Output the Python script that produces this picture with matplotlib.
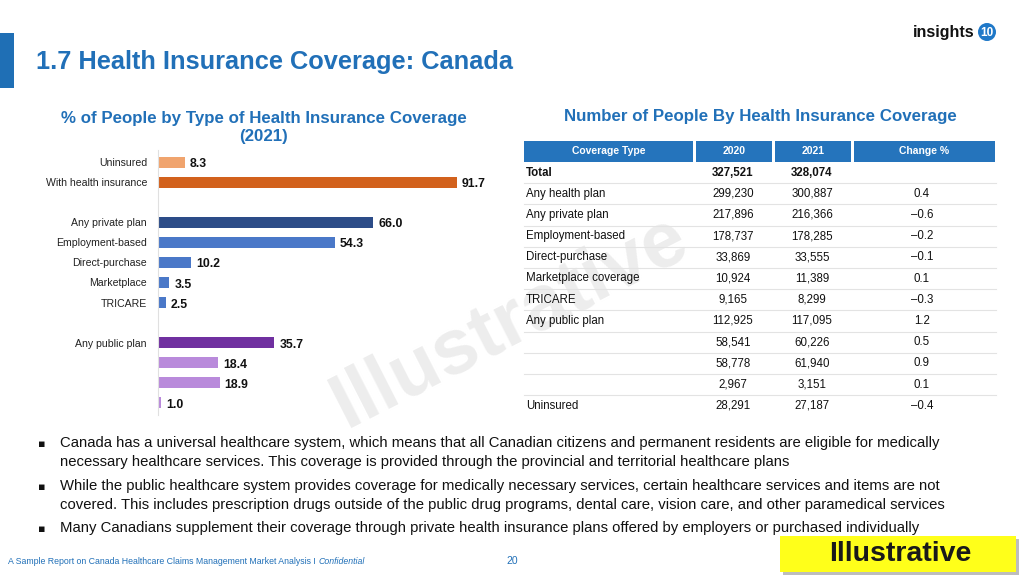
import matplotlib
matplotlib.use('Agg')
import matplotlib.pyplot as plt
from matplotlib.patches import Rectangle, Circle

plt.rcParams['font.family'] = ['Liberation Sans', 'DejaVu Sans']

# bar chart data (% of people, 2021)
bar_labels = ['Uninsured', 'With health insurance', 'Any private plan', 'Employment-based',
              'Direct-purchase', 'Marketplace', 'TRICARE', 'Any public plan', '', '', '']
bar_values = [8.3, 91.7, 66.0, 54.3, 10.2, 3.5, 2.5, 35.7, 18.4, 18.9, 1.0]
bar_slots = [0, 1, 3, 4, 5, 6, 7, 9, 10, 11, 12]
bar_colors = ['#F0A46E', '#D2611C', '#2C4C88', '#4A78C8', '#4A78C8', '#4A78C8', '#4A78C8',
              '#7030A0', '#B98ADB', '#B98ADB', '#B98ADB']

# table data (number of people, thousands)
table_header = ['Coverage Type', '2020', '2021', 'Change %']
table_types = ['Total', 'Any health plan', 'Any private plan', 'Employment-based', 'Direct-purchase',
               'Marketplace coverage', 'TRICARE', 'Any public plan', '', '', '', 'Uninsured']
values_2020 = ['327,521', '299,230', '217,896', '178,737', '33,869', '10,924', '9,165',
               '112,925', '58,541', '58,778', '2,967', '28,291']
values_2021 = ['328,074', '300,887', '216,366', '178,285', '33,555', '11,389', '8,299',
               '117,095', '60,226', '61,940', '3,151', '27,187']
change_pct = ['', '0.4', '\u20130.6', '\u20130.2', '\u20130.1', '0.1', '\u20130.3',
              '1.2', '0.5', '0.9', '0.1', '\u20130.4']

bullets = [
    'Canada has a universal healthcare system, which means that all Canadian citizens and permanent residents are eligible for medically\n'
    'necessary healthcare services. This coverage is provided through the provincial and territorial healthcare plans',
    'While the public healthcare system provides coverage for medically necessary services, certain healthcare services and items are not\n'
    'covered. This includes prescription drugs outside of the public drug programs, dental care, vision care, and other paramedical services',
    'Many Canadians supplement their coverage through private health insurance plans offered by employers or purchased individually',
]

BLUE = '#2170B8'

fig = plt.figure(figsize=(10.24, 5.76), dpi=100)

# overlay axes in pixel coordinates for the page layout
ov = fig.add_axes([0, 0, 1, 1], zorder=0)
ov.set_xlim(0, 1024)
ov.set_ylim(576, 0)
ov.axis('off')

# watermark
ov.text(510, 322, 'Illustrative', rotation=27, fontsize=56, fontweight='bold',
        color='#EDEDED', ha='center', va='center', zorder=0)

# header
ov.add_patch(Rectangle((0, 33), 14, 55, color='#1F6FB5', lw=0))
ov.text(36, 62, '1.7 Health Insurance Coverage: Canada', fontsize=18.3, fontweight='bold',
        color=BLUE, va='center')

# logo
ov.text(975, 32, 'insights', fontsize=11.5, fontweight='bold', color='#111111',
        ha='right', va='center')
ov.add_patch(Circle((987, 32), 9, color='#1F78C8', lw=0))
ov.text(987, 32.5, '10', fontsize=8.5, fontweight='bold', color='white', ha='center', va='center')

# chart titles
ov.text(264, 127.5, '% of People by Type of Health Insurance Coverage\n(2021)', fontsize=12.2,
        fontweight='bold', color=BLUE, ha='center', va='center', linespacing=1.25)
ov.text(760, 117, 'Number of People By Health Insurance Coverage', fontsize=12.2,
        fontweight='bold', color=BLUE, ha='center', va='center')

# table
col_edges = [(524, 693), (696, 772), (775, 851), (854, 995)]
for (x0, x1), h in zip(col_edges, table_header):
    ov.add_patch(Rectangle((x0, 141), x1 - x0, 21, color='#2574BC', lw=0, zorder=2))
    ov.text((x0 + x1) / 2, 151.5, h, fontsize=7.5, fontweight='bold', color='white',
            ha='center', va='center', zorder=3)
row_h = 21.2
for i, (t, a, b, c) in enumerate(zip(table_types, values_2020, values_2021, change_pct)):
    yc = 172.5 + i * row_h
    w = 'bold' if i == 0 else 'normal'
    ov.text(526, yc, t, fontsize=8.3, fontweight=w, color='#111111', va='center', zorder=3)
    ov.text(733, yc, a, fontsize=8.3, fontweight=w, color='#111111', ha='center', va='center', zorder=3)
    ov.text(812, yc, b, fontsize=8.3, fontweight=w, color='#111111', ha='center', va='center', zorder=3)
    ov.text(922, yc, c, fontsize=8.3, fontweight=w, color='#111111', ha='center', va='center', zorder=3)
    if i < len(table_types) - 1:
        ov.plot([524, 996], [yc + row_h / 2, yc + row_h / 2], color='#E3E3E3', lw=0.8, zorder=2)

# bullets
bullet_y = [444, 487, 529]
for y, txt in zip(bullet_y, bullets):
    ov.text(38, y, '\u25aa', fontsize=8, color='#111111', va='center', family=['DejaVu Sans'])
    ov.text(60, y - 8, txt, fontsize=10.7, color='#111111', va='top', linespacing=1.45)

# footer
foot = ov.text(8, 561, 'A Sample Report on Canada Healthcare Claims Management Market Analysis I ',
               fontsize=6.3, color=BLUE, va='center')
ov.annotate('Confidential', xy=(1, 0.5), xycoords=foot, fontsize=6.3, color=BLUE,
            va='center', style='italic')
ov.text(512, 561, '20', fontsize=7.5, color=BLUE, ha='center', va='center')
ov.add_patch(Rectangle((783, 539), 236, 36, color='#BDBDBD', lw=0, zorder=2))
ov.add_patch(Rectangle((780, 536), 236, 36, color='#FFFF1A', lw=0, zorder=3))
ov.text(900, 554, 'Illustrative', fontsize=20.5, fontweight='bold', color='#1A1A1A',
        ha='center', va='center', zorder=4)

# bar chart
ax = fig.add_axes([158 / 1024, 1 - 415 / 576, 326 / 1024, 265 / 576], zorder=1)
ax.patch.set_alpha(0)
ax.barh(bar_slots, bar_values, height=0.55, color=bar_colors)
for s, v in zip(bar_slots, bar_values):
    ax.text(v + 1.5, s + 0.1, f'{v:.1f}', fontsize=8.8, fontweight='bold', color='#111111',
            va='center', clip_on=False)
ax.set_xlim(0, 100)
ax.set_ylim(12.6, -0.6)
ax.set_yticks(bar_slots)
ax.set_yticklabels(bar_labels, fontsize=7.6, color='#222222')
ax.tick_params(axis='y', length=0, pad=8)
ax.set_xticks([])
for side in ['top', 'right', 'bottom']:
    ax.spines[side].set_visible(False)
ax.spines['left'].set_color('#E0E0E0')

fig.savefig('out.png', dpi=100)
